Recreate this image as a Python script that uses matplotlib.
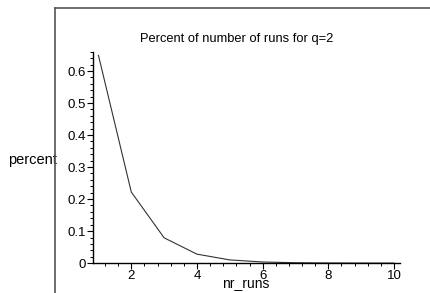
import matplotlib
matplotlib.use("Agg")
import matplotlib.pyplot as plt
from matplotlib.ticker import MultipleLocator, FuncFormatter
from matplotlib.lines import Line2D

plt.rcParams['font.family'] = ['Liberation Sans', 'DejaVu Sans']

nr_runs = [1, 2, 3, 4, 5, 6, 7, 8, 9, 10]
percent = [0.649, 0.222, 0.079, 0.028, 0.010, 0.0035, 0.0012, 0.0004, 0.00015, 0.00005]
x_ticks = [2, 4, 6, 8, 10]
y_ticks = [0, 0.1, 0.2, 0.3, 0.4, 0.5, 0.6]

fig = plt.figure(figsize=(4.30, 2.93), dpi=100)
ax = fig.add_axes([0.216, 0.102, 0.714, 0.721])

ax.plot(nr_runs, percent, color='#333333', linewidth=0.8)

ax.set_xlim(0.83, 10.18)
ax.set_ylim(0, 0.66)
ax.set_xticks(x_ticks)
ax.set_yticks(y_ticks)
ax.xaxis.set_minor_locator(MultipleLocator(0.4))
ax.yaxis.set_minor_locator(MultipleLocator(0.02))
ax.yaxis.set_major_formatter(FuncFormatter(lambda v, p: '0' if v == 0 else '%.1f' % v))

for s in ['top', 'right']:
    ax.spines[s].set_visible(False)
for s in ['left', 'bottom']:
    ax.spines[s].set_linewidth(1.0)

ax.tick_params(which='major', direction='out', length=4, width=0.8, labelsize=9.5, pad=1)
ax.tick_params(which='minor', direction='out', length=2, width=0.7)

ax.text(0.47, 1.06, 'Percent of number of runs for q=2', fontsize=9.3,
        ha='center', va='center', transform=ax.transAxes)
ax.set_xlabel('nr_runs', fontsize=10, va='center')
ax.xaxis.set_label_coords(0.497, -0.100)
ax.set_ylabel('percent', fontsize=10.5, rotation=0, ha='right', va='center')
ax.yaxis.set_label_coords(-0.117, 0.488)

# outer frame lines (top and left)
fig.add_artist(Line2D([54.5 / 430, 54.5 / 430], [0, 1 - 8 / 293], transform=fig.transFigure, color='#555555', linewidth=1.2))
fig.add_artist(Line2D([54.5 / 430, 1], [1 - 8 / 293, 1 - 8 / 293], transform=fig.transFigure, color='#555555', linewidth=1.2))

fig.savefig('out.png', dpi=100)
